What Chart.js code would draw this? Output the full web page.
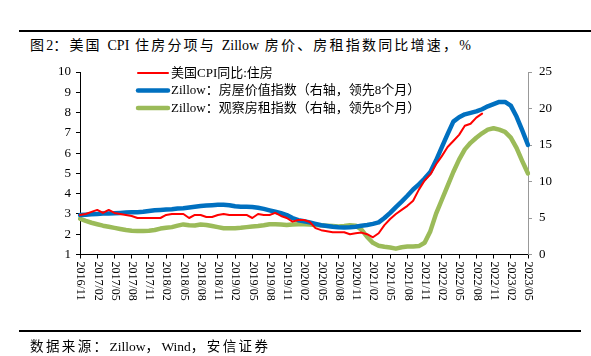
<!DOCTYPE html>
<html>
<head>
<meta charset="utf-8">
<script src="https://cdn.jsdelivr.net/npm/chart.js@4/dist/chart.umd.min.js"></script>
<style>
  html,body{margin:0;padding:0;background:#fff;}
  #wrap{position:relative;width:591px;height:356px;overflow:hidden;background:#fff;}
  #c{position:absolute;left:0;top:0;}
  .rule{position:absolute;height:2px;background:#000;}
  .txt{position:absolute;white-space:nowrap;color:#000;
       font-family:"Liberation Serif","Noto Sans CJK SC",serif;}
  .lat{letter-spacing:0;}
</style>
</head>
<body>
<div id="wrap">
  <div class="rule" style="left:19px;top:30px;width:572px;"></div>
  <div class="txt" id="title" style="left:30px;top:34px;font-size:14px;letter-spacing:2.2px;">图<span class="lat">2</span>：美国 <span class="lat">CPI</span> 住房分项与 <span class="lat">Zillow</span> 房价、房租指数同比增速，%</div>
  <canvas id="c" width="591" height="356"></canvas>
  <div class="rule" style="left:19px;top:330px;width:562px;"></div>
  <div class="txt" id="src" style="left:30px;top:335px;font-size:13.5px;letter-spacing:2.4px;">数据来源：<span class="lat">Zillow</span>，<span class="lat">Wind</span>，安信证券</div>
</div>
<script>
// ---- categories (monthly, 2016/11 - 2023/05) ----
const months = [
 "2016/11","2016/12",
 "2017/01","2017/02","2017/03","2017/04","2017/05","2017/06","2017/07","2017/08","2017/09","2017/10","2017/11","2017/12",
 "2018/01","2018/02","2018/03","2018/04","2018/05","2018/06","2018/07","2018/08","2018/09","2018/10","2018/11","2018/12",
 "2019/01","2019/02","2019/03","2019/04","2019/05","2019/06","2019/07","2019/08","2019/09","2019/10","2019/11","2019/12",
 "2020/01","2020/02","2020/03","2020/04","2020/05","2020/06","2020/07","2020/08","2020/09","2020/10","2020/11","2020/12",
 "2021/01","2021/02","2021/03","2021/04","2021/05","2021/06","2021/07","2021/08","2021/09","2021/10","2021/11","2021/12",
 "2022/01","2022/02","2022/03","2022/04","2022/05","2022/06","2022/07","2022/08","2022/09","2022/10","2022/11","2022/12",
 "2023/01","2023/02","2023/03","2023/04","2023/05"
];

// ---- series ----
const seriesNames = ["美国CPI同比:住房","Zillow：房屋价值指数（右轴，领先8个月）","Zillow：观察房租指数（右轴，领先8个月）"];

// 美国CPI同比:住房 (left axis, %)
const cpiHousing = [
 2.95,3.0,3.1,3.2,3.05,3.2,3.05,3.0,2.95,2.9,
 2.8,2.8,2.8,2.8,2.8,2.95,3.0,3.0,3.0,2.8,
 2.95,2.95,2.85,2.85,2.95,3.0,2.95,2.95,2.95,2.95,
 2.8,3.0,2.95,2.95,3.05,2.9,2.8,2.62,2.7,2.7,
 2.6,2.3,2.2,2.15,2.1,2.1,2.1,2.0,2.05,2.08,
 2.0,1.85,2.05,2.45,2.75,3.0,3.2,3.4,3.65,4.2,
 4.65,4.95,5.45,5.85,6.3,6.6,6.9,7.35,7.45,7.75,
 7.95
];

// Zillow 房屋价值指数 (right axis, %, lead 8 months)
const zhvi = [
 5.4,5.45,5.5,5.55,5.6,5.6,5.65,5.7,5.75,5.8,
 5.8,5.85,5.95,6.05,6.1,6.15,6.2,6.3,6.35,6.45,
 6.55,6.65,6.7,6.75,6.8,6.8,6.75,6.6,6.55,6.55,
 6.5,6.4,6.25,6.05,5.85,5.65,5.4,5.0,4.7,4.55,
 4.4,4.2,4.0,3.9,3.8,3.72,3.7,3.72,3.8,3.95,
 4.05,4.2,4.4,5.0,5.7,6.5,7.25,8.05,8.9,9.6,
 10.4,11.3,12.9,14.7,16.5,18.2,18.8,19.2,19.4,19.6,
 19.9,20.3,20.6,20.9,20.9,20.4,18.9,17.0,15.0
];

// Zillow 观察房租指数 (right axis, %, lead 8 months)
const zori = [
 4.9,4.6,4.35,4.15,3.95,3.8,3.65,3.5,3.35,3.25,
 3.22,3.22,3.25,3.35,3.55,3.65,3.75,3.95,4.12,4.0,
 3.98,4.1,4.05,3.9,3.75,3.6,3.6,3.6,3.65,3.75,
 3.85,3.9,4.0,4.15,4.15,4.1,4.05,4.1,4.15,4.15,
 4.1,4.05,4.0,3.95,3.9,3.85,3.9,4.0,3.95,3.4,
 2.4,1.6,1.2,1.05,0.95,0.8,1.0,1.1,1.1,1.15,
 1.6,3.2,5.6,7.5,9.4,11.3,13.0,14.4,15.3,16.0,
 16.6,17.1,17.3,17.1,16.8,16.0,14.6,12.8,11.1
];

const FONT = '"Liberation Serif","Noto Sans CJK SC",serif';
const COLORS = ['#FF0000','#0070C0','#9BBB59'];
const WIDTHS = [2, 4.5, 4.5];

// Custom rotated x labels (reading top-to-bottom) and legend
const deco = {
  id: 'deco',
  afterDraw(chart) {
    const ctx = chart.ctx;
    const xs = chart.scales.x;
    const area = chart.chartArea;
    ctx.save();
    ctx.fillStyle = '#000';
    ctx.font = '12px ' + FONT;
    ctx.textAlign = 'left';
    ctx.textBaseline = 'middle';
    months.forEach((m, i) => {
      if (i % 3 !== 0) return;
      const x = xs.getPixelForValue(i);
      ctx.save();
      ctx.translate(x + 0.5, area.bottom + 7);
      ctx.rotate(Math.PI / 2);
      ctx.fillText(m, 0, 0);
      ctx.restore();
    });
    // legend
    const lx0 = 138, lx1 = 168, ty0 = 73, dy = 17.5;
    ctx.font = '13px ' + FONT;
    ctx.textBaseline = 'middle';
    seriesNames.forEach((name, k) => {
      const y = ty0 + k * dy;
      ctx.beginPath();
      ctx.strokeStyle = COLORS[k];
      ctx.lineWidth = WIDTHS[k];
      ctx.lineCap = 'round';
      ctx.moveTo(lx0, y);
      ctx.lineTo(lx1, y);
      ctx.stroke();
      ctx.fillStyle = '#000';
      ctx.fillText(name, lx1 + 3, y + 0.5);
    });
    ctx.restore();
  }
};

new Chart(document.getElementById('c'), {
  type: 'line',
  data: {
    labels: months,
    datasets: [
      { label: seriesNames[0], data: cpiHousing, yAxisID: 'y',  borderColor: COLORS[0], borderWidth: WIDTHS[0] },
      { label: seriesNames[1], data: zhvi,       yAxisID: 'y1', borderColor: COLORS[1], borderWidth: WIDTHS[1] },
      { label: seriesNames[2], data: zori,       yAxisID: 'y1', borderColor: COLORS[2], borderWidth: WIDTHS[2] }
    ]
  },
  options: {
    responsive: false,
    animation: false,
    devicePixelRatio: 1,
    layout: { padding: { top: 72, left: 0, right: 0, bottom: 0 } },
    elements: {
      point: { radius: 0, hoverRadius: 0 },
      line: { tension: 0, fill: false, borderJoinStyle: 'round', borderCapStyle: 'round' }
    },
    plugins: { legend: { display: false }, tooltip: { enabled: false }, title: { display: false } },
    scales: {
      x: {
        type: 'category',
        offset: false,
        grid: { display: true, drawOnChartArea: false, drawTicks: true, tickLength: 4, color: '#000', lineWidth: 1 },
        border: { display: true, color: '#000', width: 1 },
        ticks: {
          autoSkip: false, minRotation: 90, maxRotation: 90,
          color: 'rgba(0,0,0,0)', font: { family: FONT, size: 12 },
          callback: function(v, i) { return i % 3 === 0 ? months[i] : null; }
        },
        afterFit: function(s) { s.height = 101.5; }
      },
      y: {
        position: 'left', min: 1, max: 10,
        grid: { display: true, drawOnChartArea: false, drawTicks: true, tickLength: 4, color: '#000' },
        border: { display: true, color: '#000', width: 1 },
        ticks: { stepSize: 1, color: '#000', padding: 5, font: { family: FONT, size: 13 } },
        afterFit: function(s) { s.width = 80; }
      },
      y1: {
        position: 'right', min: 0, max: 25,
        grid: { display: true, drawOnChartArea: false, drawTicks: true, tickLength: 4, color: '#999' },
        border: { display: true, color: '#999', width: 1 },
        ticks: { stepSize: 5, color: '#000', padding: 7, font: { family: FONT, size: 13 } },
        afterFit: function(s) { s.width = 63; }
      }
    }
  },
  plugins: [deco]
});
</script>
</body>
</html>
